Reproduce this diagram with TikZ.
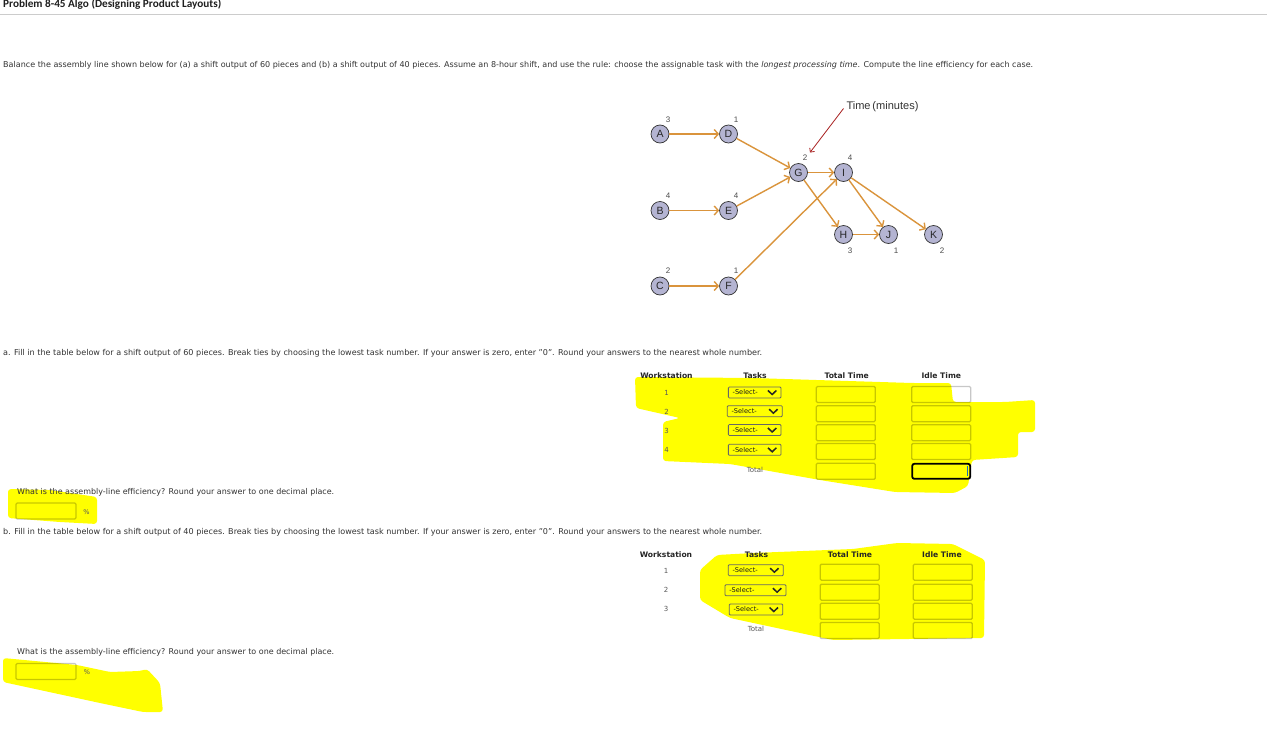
\documentclass[tikz,border=0pt]{standalone}
\usepackage{fontspec}
\setmainfont{DejaVu Sans}
\newfontfamily\titlefont{Carlito}
\newfontfamily\labfont{Liberation Sans}
\usetikzlibrary{arrows.meta,calc}
\definecolor{hl}{RGB}{255,255,0}
\definecolor{edgeo}{RGB}{218,148,60}
\definecolor{nodefill}{RGB}{180,180,210}
\definecolor{redarr}{RGB}{168,32,32}
\definecolor{txt}{RGB}{51,51,51}
\definecolor{caretblue}{RGB}{20,110,190}
\newcommand\mkselect[4]{%
  \node[selbox,minimum width=#4pt] (#1) at (#2,#3) {};
  \node[seltxt,anchor=west] (#1t) at ([xshift=4.5pt]#1.west) {-Select-};
  \draw[chev] ($(#1.east)+(-13.5,-2)$) -- ++(4.2,4) -- ++(4.2,-4);}
\begin{document}
\begin{tikzpicture}[x=1pt,y=-1pt,
  task/.style={circle,draw=black!80,line width=0.7pt,fill=nodefill,minimum size=18pt,inner sep=0pt,font=\labfont\fontsize{10.5}{10.5}\selectfont,text=black!85},
  tm/.style={font=\labfont\fontsize{8}{8}\selectfont,text=black!70,inner sep=0pt},
  prec/.style={draw=edgeo,line width=1.4pt,-{Straight Barb[length=4pt,width=9pt]}},
  body/.style={anchor=west,inner sep=0pt,text=txt},
  hdr/.style={font=\bfseries\fontsize{7.6}{8}\selectfont,inner sep=0pt,text=black!85},
  num/.style={font=\fontsize{7}{7}\selectfont,inner sep=0pt,text=black!65},
  selbox/.style={draw=black!60,line width=0.8pt,rounded corners=1pt,minimum height=11pt,inner sep=0pt},
  seltxt/.style={font=\fontsize{6.6}{7}\selectfont,inner sep=0pt,text=black!90},
  chev/.style={draw=black!85,line width=1.5pt},
  inbox/.style={draw=black,draw opacity=0.22,line width=1.3pt,rounded corners=1.2pt,minimum width=59pt,minimum height=16pt,inner sep=0pt},
  hlt/.style={fill=hl,draw=none,rounded corners=3pt},
]
\useasboundingbox (0,0) rectangle (1267,739);
\fill[white] (0,0) rectangle (1267,739);

% ---------- yellow highlights ----------
\fill[hlt] (635,377) -- (753,378) -- (912,383) -- (951,383) -- (953,402) -- (1005,402)
  -- (1035,400) -- (1035,432) -- (1018,432) -- (1018,457) -- (972,460) -- (968,486)
  -- (955,493) -- (895,492) -- (820,480) -- (730,464) -- (663,461) -- (663,422)
  -- (680,418) -- (636,408) -- cycle;
\fill[hlt] (700,570) -- (717,555) -- (753,553) -- (853,549) -- (897,543) -- (953,544)
  -- (985,560) -- (984,638) -- (833,640) -- (730,618) -- (700,600) -- cycle;
\fill[hlt] (8,489) -- (50,490) -- (97,497) -- (97,524) -- (60,522) -- (8,518) -- cycle;
\fill[hlt] (3,658) -- (77,665) -- (110,672) -- (140,671) -- (147,669) -- (160,683)
  -- (163,712) -- (143,712) -- (100,703) -- (3,682) -- cycle;

% ---------- header ----------
\node[body,text=black!88] (title) at (3,4.5) {\resizebox{218pt}{!}{\titlefont\bfseries Problem 8-45 Algo (Designing Product Layouts)}};
\draw[draw=black!20,line width=1.5pt] (0,14.5) -- (1267,14.5);
\node[body] (intro) at (3,65) {\resizebox{1030pt}{!}{Balance the assembly line shown below for (a) a shift output of 60 pieces and (b) a shift output of 40 pieces. Assume an 8-hour shift, and use the rule: choose the assignable task with the \textit{longest processing time}. Compute the line efficiency for each case.}};

% ---------- precedence diagram ----------
\node[task] (A) at (660,134) {A};
\node[task] (D) at (728.5,134) {D};
\node[task] (B) at (660,210.5) {B};
\node[task] (E) at (728.5,210.5) {E};
\node[task] (C) at (660,286) {C};
\node[task] (F) at (728.5,286) {F};
\node[task] (G) at (798.5,172.5) {G};
\node[task] (I) at (843.5,172.5) {I};
\node[task] (H) at (843.5,234.5) {H};
\node[task] (J) at (888.5,234.5) {J};
\node[task] (K) at (933.5,234.5) {K};

\node[tm] (tA) at (668,119.5) {3};
\node[tm] (tD) at (736,119.5) {1};
\node[tm] (tB) at (668,195.5) {4};
\node[tm] (tE) at (736,195.5) {4};
\node[tm] (tC) at (668,271) {2};
\node[tm] (tF) at (736,271) {1};
\node[tm] (tG) at (805,157.5) {2};
\node[tm] (tI) at (850,157.5) {4};
\node[tm] (tH) at (850,250.5) {3};
\node[tm] (tJ) at (896,251) {1};
\node[tm] (tK) at (942,251) {2};

\draw[prec] (A) -- (D);
\draw[prec] (B) -- (E);
\draw[prec] (C) -- (F);
\draw[prec] (D) -- (G);
\draw[prec] (E) -- (G);
\draw[prec] (F) -- (I);
\draw[prec] (G) -- (I);
\draw[prec] (G) -- (H);
\draw[prec] (H) -- (J);
\draw[prec] (I) -- (J);
\draw[prec] (I) -- (K);

\node[inner sep=0pt,text=black!80] (timelab) at (882.5,106.5) {\resizebox{72pt}{!}{\labfont Time\,(minutes)}};
\coordinate (rs) at (843.5,108.5);
\coordinate (re) at (810,152.5);
\draw[draw=redarr,line width=0.8pt,-{Straight Barb[length=3pt,width=6pt]}] (rs) -- (re);

% ---------- part a ----------
\node[body] (pa) at (3,353) {\resizebox{759pt}{!}{a. Fill in the table below for a shift output of 60 pieces. Break ties by choosing the lowest task number. If your answer is zero, enter "0". Round your answers to the nearest whole number.}};

\node[hdr] (hwa) at (666.5,376) {Workstation};
\node[hdr] (hta) at (755,376) {Tasks};
\node[hdr] (htt) at (846.7,376) {Total Time};
\node[hdr] (hit) at (941.3,376) {Idle Time};

\node[num] (wa1) at (666.7,393) {1};
\node[num] (wa2) at (666.7,412) {2};
\node[num] (wa3) at (666.7,430.5) {3};
\node[num] (wa4) at (666.7,449.5) {4};
\node[num] (tota) at (755,469.5) {Total};

\mkselect{sa1}{754.7}{392.5}{52.7}
\mkselect{sa2}{754.8}{411.2}{55}
\mkselect{sa3}{754.7}{430}{52.7}
\mkselect{sa4}{754.7}{449.8}{52.7}

\node[inbox] (ta1) at (845.8,394.5) {};
\node[inbox] (ta2) at (845.8,413.7) {};
\node[inbox] (ta3) at (845.8,432.7) {};
\node[inbox] (ta4) at (845.8,451.5) {};
\node[inbox] (ta5) at (845.8,471.3) {};
\node[inbox] (ia1) at (941.2,394.5) {};
\node[inbox] (ia2) at (941.2,413.7) {};
\node[inbox] (ia3) at (941.2,432.7) {};
\node[inbox] (ia4) at (941.2,451.5) {};
\node[draw=black,line width=1.8pt,rounded corners=2.2pt,minimum width=58pt,minimum height=15pt,inner sep=0pt] (ia5) at (941.2,471.3) {};
\draw[draw=caretblue,line width=0.8pt] ($(ia5.east)+(-4,-5)$) -- ++(0,10);

\node[body] (qa) at (17,492) {\resizebox{317pt}{!}{What is the assembly-line efficiency? Round your answer to one decimal place.}};
\node[inbox,minimum width=60pt] (ea) at (46,511) {};
\node[num,font=\fontsize{6.5}{7}\selectfont] (pcta) at (86.5,512) {\%};

% ---------- part b ----------
\node[body] (pb) at (3,532) {\resizebox{759pt}{!}{b. Fill in the table below for a shift output of 40 pieces. Break ties by choosing the lowest task number. If your answer is zero, enter "0". Round your answers to the nearest whole number.}};

\node[hdr] (hwb) at (666,555) {Workstation};
\node[hdr] (htb) at (756.5,555) {Tasks};
\node[hdr] (httb) at (850,555) {Total Time};
\node[hdr] (hitb) at (942,555) {Idle Time};

\node[num] (wb1) at (666,571) {1};
\node[num] (wb2) at (666,590) {2};
\node[num] (wb3) at (666,609) {3};
\node[num] (totb) at (756,629) {Total};

\mkselect{sb1}{755.8}{570.2}{55}
\mkselect{sb2}{755.5}{590.2}{61}
\mkselect{sb3}{756}{609.5}{53.4}

\node[inbox] (tb1) at (849.7,572.2) {};
\node[inbox] (tb2) at (849.7,592.2) {};
\node[inbox] (tb3) at (849.7,611.3) {};
\node[inbox] (tb4) at (849.7,630.5) {};
\node[inbox] (ib1) at (942.8,572.2) {};
\node[inbox] (ib2) at (942.8,592.2) {};
\node[inbox] (ib3) at (942.8,611.3) {};
\node[inbox] (ib4) at (942.8,630.5) {};

\node[body] (qb) at (17,652) {\resizebox{317pt}{!}{What is the assembly-line efficiency? Round your answer to one decimal place.}};
\node[inbox,minimum width=60pt] (eb) at (46,671.5) {};
\node[num,font=\fontsize{6.5}{7}\selectfont] (pctb) at (87,672.5) {\%};
\end{tikzpicture}
\end{document}
